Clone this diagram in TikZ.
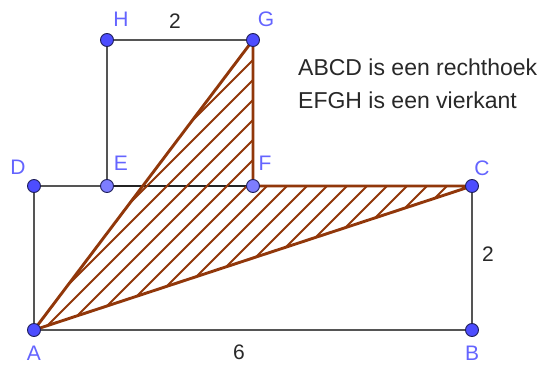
\documentclass[tikz,border=0pt]{standalone}
\usepackage{fontspec}
\setmainfont{Liberation Sans}
\definecolor{ptdark}{RGB}{77,77,255}
\definecolor{ptlight}{RGB}{125,125,255}
\definecolor{ptedge}{RGB}{30,30,90}
\definecolor{lblblue}{RGB}{100,100,255}
\definecolor{seggray}{RGB}{85,85,85}
\definecolor{segdark}{RGB}{35,35,35}
\definecolor{brown}{RGB}{145,55,10}
\definecolor{txt}{RGB}{40,40,40}
\begin{document}
\begin{tikzpicture}[x=1pt,y=-1pt,
  seg/.style={draw=seggray,line width=2.9pt},
  segk/.style={draw=segdark,line width=2.9pt},
  edge/.style={draw=brown,line width=2.9pt,line join=round},
  hatch/.style={draw=brown,line width=2.1pt},
  pt/.style={circle,inner sep=0pt,minimum size=13pt,fill=ptdark,draw=ptedge,line width=0.9pt},
  ptl/.style={pt,fill=ptlight},
  lbl/.style={text=lblblue,font=\fontsize{21}{24}\selectfont,inner sep=0pt},
  num/.style={text=txt,font=\fontsize{21}{24}\selectfont,inner sep=0pt},
  note/.style={text=txt,font=\fontsize{23}{26}\selectfont,inner sep=0pt,anchor=base west}]
\useasboundingbox (0,0) rectangle (544,367);
\coordinate (A) at (34,330);
\coordinate (B) at (472,330);
\coordinate (C) at (472,186);
\coordinate (D) at (34,186);
\coordinate (E) at (107,186);
\coordinate (F) at (253,186);
\coordinate (G) at (253,40);
\coordinate (H) at (107,40);
% rectangle and square sides
\draw[seg] (D) -- (E);
\draw[seg] (F) -- (C) -- (B) -- (A) -- (D);
\draw[seg] (E) -- (H) -- (G);
\draw[segk] (E) -- (F);
% hatched region
\begin{scope}
  \clip (A) -- (G) -- (F) -- (C) -- cycle;
  \foreach \k in {293,313,...,813} \draw[hatch] (\k,0) -- (\k-400,400);
\end{scope}
\draw[edge] (A) -- (G) -- (F) -- (C) -- cycle;
% points
\node[pt] (pA) at (A) {};
\node[pt] (pB) at (B) {};
\node[pt] (pC) at (C) {};
\node[pt] (pD) at (D) {};
\node[ptl] (pE) at (E) {};
\node[ptl] (pF) at (F) {};
\node[pt] (pG) at (G) {};
\node[pt] (pH) at (H) {};
% labels
\node[lbl] (lA) at (34,353) {A};
\node[lbl] (lB) at (472,353) {B};
\node[lbl] (lC) at (482,168) {C};
\node[lbl] (lD) at (18,167) {D};
\node[lbl] (lE) at (121,163) {E};
\node[lbl] (lF) at (265,163) {F};
\node[lbl] (lG) at (266,19) {G};
\node[lbl] (lH) at (121,19) {H};
\node[num] (n6) at (239,352) {6};
\node[num] (n2a) at (488,254) {2};
\node[num] (n2b) at (175,21) {2};
\node[note] (t1) at (298,75) {ABCD is een rechthoek};
\node[note] (t2) at (298,108) {EFGH is een vierkant};
\end{tikzpicture}
\end{document}
